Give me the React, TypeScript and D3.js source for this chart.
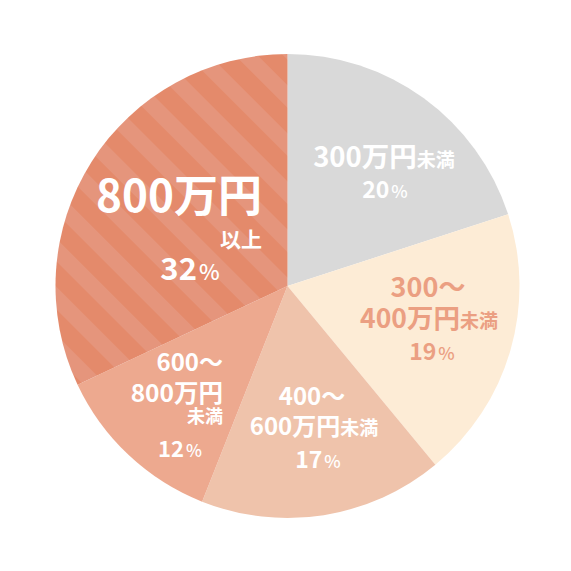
import { useEffect, useRef } from 'react';
import * as d3 from 'd3';

const CATEGORIES = ['300万円未満', '300〜400万円未満', '400〜600万円未満', '600〜800万円未満', '800万円以上'];
const SHARES = [20, 19, 17, 12, 32];
const COLORS = ['#d9d9d9', '#fdecd6', '#efc3ab', '#eda98f', 'url(#stripe)'];

type Part = { t: string; s: number; w?: number };
type Line = { parts: Part[]; x: number; y: number; anchor: 'start' | 'middle' | 'end' };

const FONT = '"Noto Sans CJK JP", "Noto Sans", sans-serif';
const W = 571;
const CX = 287.5;
const CY = 286;
const R = 232;

// label layout (page coords), one block per slice
const LABELS: { color: string; lines: Line[] }[] = [
  {
    color: '#ffffff',
    lines: [
      { parts: [{ t: '300万円', s: 27.5 }, { t: '未満', s: 19 }], x: 384, y: 167, anchor: 'middle' },
      { parts: [{ t: '20', s: 23 }, { t: '%', s: 17.5, w: 500 }], x: 385, y: 198, anchor: 'middle' },
    ],
  },
  {
    color: '#eb9f82',
    lines: [
      { parts: [{ t: '300〜', s: 27 }], x: 428, y: 297, anchor: 'middle' },
      { parts: [{ t: '400万円', s: 26.5 }, { t: '未満', s: 19 }], x: 429, y: 328, anchor: 'middle' },
      { parts: [{ t: '19', s: 23 }, { t: '%', s: 17.5, w: 500 }], x: 432, y: 360, anchor: 'middle' },
    ],
  },
  {
    color: '#ffffff',
    lines: [
      { parts: [{ t: '400〜', s: 24 }], x: 312, y: 405, anchor: 'middle' },
      { parts: [{ t: '600万円', s: 24 }, { t: '未満', s: 19 }], x: 314, y: 435, anchor: 'middle' },
      { parts: [{ t: '17', s: 23 }, { t: '%', s: 17.5, w: 500 }], x: 318, y: 468, anchor: 'middle' },
    ],
  },
  {
    color: '#ffffff',
    lines: [
      { parts: [{ t: '600〜', s: 24 }], x: 223, y: 371, anchor: 'end' },
      { parts: [{ t: '800万円', s: 24.5 }], x: 223, y: 402, anchor: 'end' },
      { parts: [{ t: '未満', s: 18 }], x: 223, y: 423, anchor: 'end' },
      { parts: [{ t: '12', s: 22 }, { t: '%', s: 17, w: 500 }], x: 180, y: 457, anchor: 'middle' },
    ],
  },
  {
    color: '#ffffff',
    lines: [
      { parts: [{ t: '800万円', s: 44 }], x: 262, y: 212, anchor: 'end' },
      { parts: [{ t: '以上', s: 21 }], x: 262, y: 247, anchor: 'end' },
      { parts: [{ t: '32', s: 31 }, { t: '%', s: 22, w: 500 }], x: 190, y: 280, anchor: 'middle' },
    ],
  },
];

export default function App() {
  const svgRef = useRef<SVGSVGElement>(null);

  useEffect(() => {
    const svgEl = svgRef.current;
    if (!svgEl) return;
    const svg = d3.select(svgEl).attr('viewBox', `0 0 ${W} ${W}`);
    svg.selectAll('*').remove();

    // diagonal stripes for the 800万円以上 slice
    const pat = svg.append('defs').append('pattern')
      .attr('id', 'stripe').attr('patternUnits', 'userSpaceOnUse')
      .attr('width', 34).attr('height', 34)
      .attr('patternTransform', 'rotate(45) translate(0,-6)');
    pat.append('rect').attr('width', 34).attr('height', 34).attr('fill', '#e48a6b');
    pat.append('rect').attr('y', 0).attr('width', 34).attr('height', 16).attr('fill', '#e5957c');

    const pie = d3.pie<number>().sort(null).value((d) => d);
    const arc = d3.arc<d3.PieArcDatum<number>>().innerRadius(0).outerRadius(R);

    const g = svg.append('g').attr('transform', `translate(${CX},${CY})`);
    g.selectAll('path').data(pie(SHARES)).join('path')
      .attr('d', arc)
      .attr('fill', (_, i) => COLORS[i])
      .append('title').text((d, i) => `${CATEGORIES[i]} ${d.data}%`);

    // labels
    LABELS.forEach((lab) => {
      lab.lines.forEach((ln) => {
        const txt = svg.append('text')
          .attr('x', ln.x).attr('y', ln.y)
          .attr('text-anchor', ln.anchor)
          .attr('font-family', FONT).attr('font-weight', 700)
          .attr('fill', lab.color);
        ln.parts.forEach((p, j) => {
          txt.append('tspan')
            .attr('font-size', p.s)
            .attr('font-weight', p.w ?? 700)
            .attr('dx', j > 0 && p.t === '%' ? 2 : 0)
            .text(p.t);
        });
      });
    });
  }, []);

  return (
    <svg
      ref={svgRef}
      width={W}
      height={W}
      style={{ position: 'absolute', left: 0, top: 0, display: 'block', background: '#fff' }}
    />
  );
}
